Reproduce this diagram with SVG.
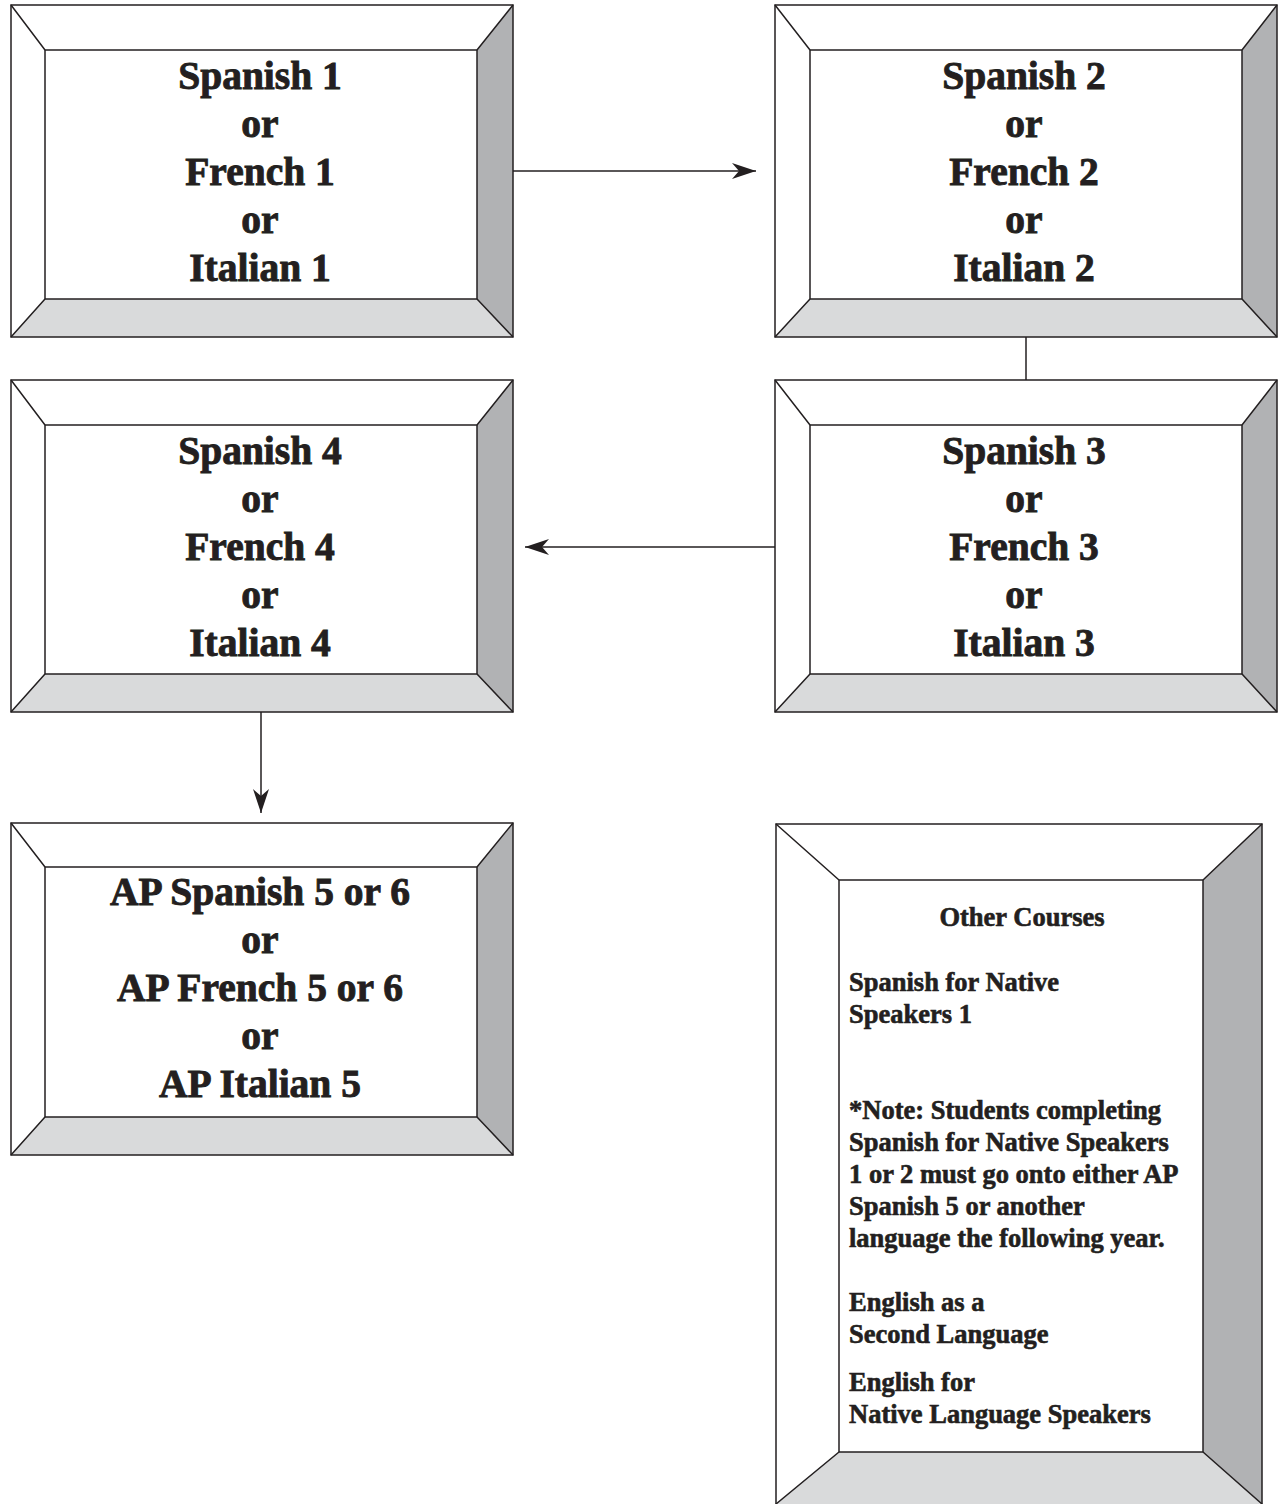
<svg xmlns="http://www.w3.org/2000/svg" width="1278" height="1504" viewBox="0 0 1278 1504">
<style>
.o{fill:none;stroke:#231f20;stroke-width:1.5}
.w{fill:#ffffff}
.b{fill:#d9dadb}
.r{fill:#b1b2b4}
.in{fill:#ffffff;stroke:#231f20;stroke-width:1.5}
.d{stroke:#231f20;stroke-width:1.5}
.t{font-family:"Liberation Serif","Times New Roman",serif;font-weight:bold;font-size:39.5px;fill:#231f20;stroke:#231f20;stroke-width:0.9;text-anchor:middle}
.s{font-family:"Liberation Serif","Times New Roman",serif;font-weight:bold;font-size:26.5px;fill:#231f20;stroke:#231f20;stroke-width:0.6}
.c{stroke:#231f20;stroke-width:1.5;fill:none}
</style>
<defs>
<marker id="ah" viewBox="-26 -10 28 20" markerWidth="28" markerHeight="20" refX="0" refY="0" orient="auto" markerUnits="userSpaceOnUse">
<path d="M0,0 L-24,-8 L-17,0 L-24,8 Z" fill="#231f20"/>
</marker>
</defs>
<g id="connectors">
<line class="c" x1="513" y1="171" x2="756" y2="171" marker-end="url(#ah)"/>
<line class="c" x1="1026" y1="337" x2="1026" y2="380"/>
<line class="c" x1="775" y1="547" x2="525" y2="547" marker-end="url(#ah)"/>
<line class="c" x1="261" y1="712" x2="261" y2="813" marker-end="url(#ah)"/>
</g>
<g id="box1">
<rect class="w" x="11" y="5" width="502" height="332"/>
<polygon class="b" points="11,337 513,337 477,299 45,299"/>
<polygon class="r" points="513,5 513,337 477,299 477,50"/>
<rect class="o" x="11" y="5" width="502" height="332"/>
<rect class="in" x="45" y="50" width="432" height="249"/>
<path class="d" d="M11,5L45,50M513,5L477,50M11,337L45,299M513,337L477,299"/>
<text class="t" x="260" y="89">Spanish 1</text>
<text class="t" x="260" y="137">or</text>
<text class="t" x="260" y="185">French 1</text>
<text class="t" x="260" y="233">or</text>
<text class="t" x="260" y="281">Italian 1</text>
</g>
<g id="box2">
<rect class="w" x="775" y="5" width="502" height="332"/>
<polygon class="b" points="775,337 1277,337 1242,299 810,299"/>
<polygon class="r" points="1277,5 1277,337 1242,299 1242,50"/>
<rect class="o" x="775" y="5" width="502" height="332"/>
<rect class="in" x="810" y="50" width="432" height="249"/>
<path class="d" d="M775,5L810,50M1277,5L1242,50M775,337L810,299M1277,337L1242,299"/>
<text class="t" x="1024" y="89">Spanish 2</text>
<text class="t" x="1024" y="137">or</text>
<text class="t" x="1024" y="185">French 2</text>
<text class="t" x="1024" y="233">or</text>
<text class="t" x="1024" y="281">Italian 2</text>
</g>
<g id="box3">
<rect class="w" x="775" y="380" width="502" height="332"/>
<polygon class="b" points="775,712 1277,712 1242,674 810,674"/>
<polygon class="r" points="1277,380 1277,712 1242,674 1242,425"/>
<rect class="o" x="775" y="380" width="502" height="332"/>
<rect class="in" x="810" y="425" width="432" height="249"/>
<path class="d" d="M775,380L810,425M1277,380L1242,425M775,712L810,674M1277,712L1242,674"/>
<text class="t" x="1024" y="464">Spanish 3</text>
<text class="t" x="1024" y="512">or</text>
<text class="t" x="1024" y="560">French 3</text>
<text class="t" x="1024" y="608">or</text>
<text class="t" x="1024" y="656">Italian 3</text>
</g>
<g id="box4">
<rect class="w" x="11" y="380" width="502" height="332"/>
<polygon class="b" points="11,712 513,712 477,674 45,674"/>
<polygon class="r" points="513,380 513,712 477,674 477,425"/>
<rect class="o" x="11" y="380" width="502" height="332"/>
<rect class="in" x="45" y="425" width="432" height="249"/>
<path class="d" d="M11,380L45,425M513,380L477,425M11,712L45,674M513,712L477,674"/>
<text class="t" x="260" y="464">Spanish 4</text>
<text class="t" x="260" y="512">or</text>
<text class="t" x="260" y="560">French 4</text>
<text class="t" x="260" y="608">or</text>
<text class="t" x="260" y="656">Italian 4</text>
</g>
<g id="box5">
<rect class="w" x="11" y="823" width="502" height="332"/>
<polygon class="b" points="11,1155 513,1155 477,1117 45,1117"/>
<polygon class="r" points="513,823 513,1155 477,1117 477,867"/>
<rect class="o" x="11" y="823" width="502" height="332"/>
<rect class="in" x="45" y="867" width="432" height="250"/>
<path class="d" d="M11,823L45,867M513,823L477,867M11,1155L45,1117M513,1155L477,1117"/>
<text class="t" x="260" y="905">AP Spanish 5 or 6</text>
<text class="t" x="260" y="953">or</text>
<text class="t" x="260" y="1001">AP French 5 or 6</text>
<text class="t" x="260" y="1049">or</text>
<text class="t" x="260" y="1097">AP Italian 5</text>
</g>
<g id="box6">
<rect class="w" x="776" y="824" width="486" height="680"/>
<polygon class="b" points="776,1504 1262,1504 1203,1452 839,1452"/>
<polygon class="r" points="1262,824 1262,1504 1203,1452 1203,880"/>
<path class="o" d="M776,1504V824H1262V1504"/>
<rect class="in" x="839" y="880" width="364" height="572"/>
<path class="d" d="M776,824L839,880M1262,824L1203,880M776,1504L839,1452M1262,1504L1203,1452"/>
<text class="s" x="1022" y="926" text-anchor="middle">Other Courses</text>
<text class="s" x="849" y="991">Spanish for Native</text>
<text class="s" x="849" y="1023">Speakers 1</text>
<text class="s" x="849" y="1119">*Note: Students completing</text>
<text class="s" x="849" y="1151">Spanish for Native Speakers</text>
<text class="s" x="849" y="1183">1 or 2 must go onto either AP</text>
<text class="s" x="849" y="1215">Spanish 5 or another</text>
<text class="s" x="849" y="1247">language the following year.</text>
<text class="s" x="849" y="1311">English as a</text>
<text class="s" x="849" y="1343">Second Language</text>
<text class="s" x="849" y="1391">English for</text>
<text class="s" x="849" y="1423">Native Language Speakers</text>
</g>
</svg>
